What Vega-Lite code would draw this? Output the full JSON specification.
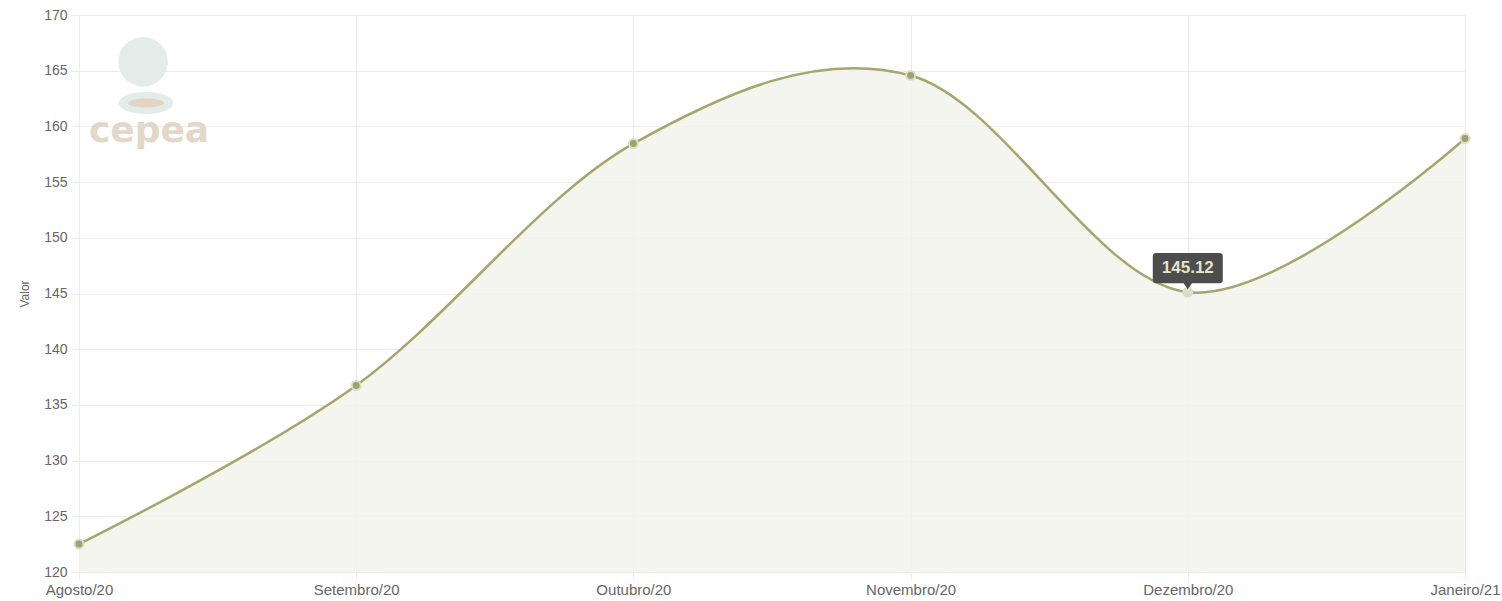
{
  "$schema": "https://vega.github.io/schema/vega-lite/v6.json",
  "autosize": "none",
  "width": 1386,
  "height": 557,
  "padding": {"left": 79, "top": 15, "right": 37, "bottom": 29},
  "background": "#ffffff",
  "config": {
    "view": {"stroke": null},
    "font": "Liberation Sans",
    "axis": {
      "labelColor": "#666666",
      "labelFontSize": 14,
      "titleColor": "#666666",
      "titleFontSize": 12,
      "titleFontWeight": "normal",
      "gridColor": "#ececec",
      "tickColor": "#ececec",
      "domain": false,
      "tickSize": 8
    }
  },
  "data": {
    "values": [
      {"mes": "Agosto/20", "valor": 122.51},
      {"mes": "Setembro/20", "valor": 136.74},
      {"mes": "Outubro/20", "valor": 158.46},
      {"mes": "Novembro/20", "valor": 164.57},
      {"mes": "Dezembro/20", "valor": 145.12},
      {"mes": "Janeiro/21", "valor": 158.91}
    ]
  },
  "encoding": {
    "x": {
      "field": "mes",
      "type": "ordinal",
      "sort": null,
      "scale": {"type": "point", "padding": 0},
      "axis": {"title": null, "labelAngle": 0, "labelPadding": 2, "grid": true, "labelFontSize": 15}
    },
    "y": {
      "field": "valor",
      "type": "quantitative",
      "scale": {"domain": [120, 170], "zero": false, "nice": false},
      "axis": {"title": "Valor", "values": [120,125,130,135,140,145,150,155,160,165,170], "labelPadding": 4, "titlePadding": 12}
    }
  },
  "layer": [
    {
      "data": {"values": [{"mes": "Agosto/20", "valor": 165.8}]},
      "mark": {"type": "point", "filled": true, "shape": "circle", "size": 2460, "color": "#e4ecea", "opacity": 1, "xOffset": 64}
    },
    {
      "data": {"values": [{"mes": "Agosto/20", "valor": 162.1}]},
      "mark": {"type": "point", "filled": true, "shape": "M-1,0 A1,0.4 0 1,0 1,0 A1,0.4 0 1,0 -1,0 Z", "size": 3000, "color": "#e4ecea", "opacity": 1, "xOffset": 67}
    },
    {
      "data": {"values": [{"mes": "Agosto/20", "valor": 162.1}]},
      "mark": {"type": "point", "filled": true, "shape": "M-1,0 A1,0.25 0 1,0 1,0 A1,0.25 0 1,0 -1,0 Z", "size": 1300, "color": "#e3d5c4", "opacity": 1, "xOffset": 67}
    },
    {
      "data": {"values": [{"mes": "Agosto/20", "valor": 159.6, "logo": "cepea"}]},
      "mark": {"type": "text", "font": "DejaVu Sans", "fontSize": 36, "fontWeight": "bold", "color": "#e3d7c8", "xOffset": 70, "baseline": "middle", "align": "center"},
      "encoding": {"text": {"field": "logo"}}
    },
    {
      "mark": {"type": "area", "interpolate": "cardinal", "color": "#f3f3ec", "opacity": 0.85, "clip": true},
      "encoding": {"y2": {"datum": 120}}
    },
    {
      "mark": {"type": "line", "interpolate": "cardinal", "color": "#a7a46c", "strokeWidth": 2.5}
    },
    {
      "mark": {"type": "point", "filled": true, "size": 80, "stroke": "#dcdccb", "strokeWidth": 2, "strokeOpacity": 1, "opacity": 1},
      "encoding": {
        "fill": {"condition": {"test": "datum.mes === 'Dezembro/20'", "value": "#dcdccb"}, "value": "#a3a16b"}
      }
    },
    {
      "transform": [{"filter": "datum.mes === 'Dezembro/20'"}],
      "mark": {"type": "point", "filled": true, "opacity": 1, "color": "#4d4d4d", "size": 4900, "yOffset": -24,
        "shape": "M-0.91,-0.43 L0.91,-0.43 Q1,-0.43 1,-0.34 L1,0.34 Q1,0.43 0.91,0.43 L0.12,0.43 L0,0.6 L-0.12,0.43 L-0.91,0.43 Q-1,0.43 -1,0.34 L-1,-0.34 Q-1,-0.43 -0.91,-0.43 Z"}
    },
    {
      "transform": [{"filter": "datum.mes === 'Dezembro/20'"}],
      "mark": {"type": "text", "color": "#e6e4c8", "fontSize": 17, "fontWeight": "bold", "font": "Liberation Sans", "yOffset": -24, "baseline": "middle", "align": "center"},
      "encoding": {"text": {"field": "valor", "type": "quantitative", "format": ".2f"}}
    }
  ]
}
